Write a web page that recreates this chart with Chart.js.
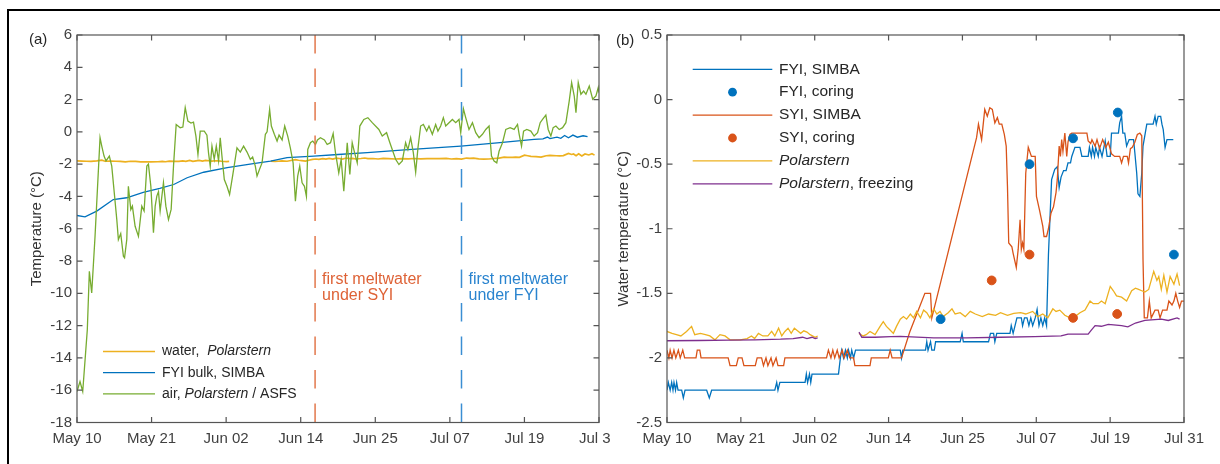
<!DOCTYPE html>
<html>
<head>
<meta charset="utf-8">
<script src="https://cdn.jsdelivr.net/npm/chart.js@4.4.1/dist/chart.umd.min.js"></script>
<style>
  body { margin:0; background:#fff; width:1220px; height:464px; overflow:hidden; position:relative;
         font-family:"Liberation Sans", Arial, sans-serif; }
  #ca { position:absolute; left:10px; top:12px; }
  #cb { position:absolute; left:611px; top:12px; background:#fff; }
  #frame { position:absolute; left:7px; top:9px; width:1300px; height:500px;
           border-left:2px solid #000; border-top:2px solid #000; pointer-events:none; }
  .tag { position:absolute; font-size:15px; line-height:17px; color:#262626; }
</style>
</head>
<body>
<canvas id="ca" width="640" height="452"></canvas>
<canvas id="cb" width="609" height="452"></canvas>
<div id="frame"></div>
<div class="tag" style="left:29px;top:30px">(a)</div>
<div class="tag" style="left:616px;top:31px">(b)</div>
<script>
// x axis: days since May 10, ticks evenly spaced over the span
const spanDays = 82;
const dateLabels = ['May 10','May 21','Jun 02','Jun 14','Jun 25','Jul 07','Jul 19','Jul 31'];

// (a) air temperature, Polarstern / ASFS
const airDays = [0,0.47,0.9,1.62,1.94,2.31,2.83,3.62,3.89,4.25,
  4.56,5.08,5.46,6.25,6.5,6.87,7.29,7.47,7.82,8.07,
  8.45,8.7,9.13,9.65,10.18,10.54,10.97,11.22,11.6,12.01,
  12.28,12.54,12.8,13.06,13.58,13.96,14.37,14.79,15.16,15.58,
  16.21,16.63,17,17.42,17.9,18.3,18.68,19,19.36,19.99,
  20.41,20.66,20.93,21.2,21.56,21.88,22.24,22.5,22.77,23.14,
  23.56,23.97,24.44,25.13,25.65,26.17,26.71,27.23,27.59,28.01,
  28.28,28.69,29.07,29.59,29.86,30.26,30.53,31,31.43,31.74,
  32.22,32.63,33.1,33.52,33.95,34.31,34.67,34.99,35.36,35.73,
  36.04,36.25,36.67,37.03,37.46,37.77,38.24,38.87,39.3,39.82,
  40.24,40.6,41.12,41.5,41.91,42.45,42.86,43.23,43.6,44.02,
  44.43,45.06,45.69,46.38,47.42,47.95,48.63,49.15,50.05,50.57,
  51.1,51.62,51.98,52.41,52.83,53.2,53.56,53.98,54.41,54.93,
  55.29,55.82,56.34,56.7,57.13,57.55,57.92,58.44,58.97,59.49,
  60.01,60.28,60.7,61.06,61.58,62.12,62.64,63.16,63.69,64.21,
  64.73,65.11,65.52,65.94,66.3,66.84,67.36,68.04,68.67,69.2,
  69.46,69.83,70.15,70.66,71.29,71.81,72.35,72.76,73.13,73.65,
  74.02,74.44,74.8,75.23,75.75,76.28,76.8,77.32,77.7,78.11,
  78.38,78.74,79.16,79.59,79.95,80.47,81.01,81.52,81.88,82];
const airTemp = [-16.08,-15.46,-16.08,-12.25,-8.63,-9.98,-6.5,-0.36,-0.88,-1.5,
  -1.8,-1.5,-2.12,-5.43,-6.67,-6.3,-7.7,-7.8,-6.67,-3.37,
  -4.81,-4.6,-5.85,-6.47,-4.6,-4.9,-2.12,-2.0,-3.37,-6.25,
  -4.6,-3.98,-3.7,-4.9,-3.15,-4.6,-5.43,-4.8,-2.12,0.46,
  0.26,0.3,1.5,0.67,0.55,0.6,-0.26,-1.4,0.05,0.05,
  -0.2,-1.3,-2.12,-0.88,-1.7,-0.88,-1.8,-0.36,-1.5,-2.95,
  -3.37,-3.88,-2.74,-0.99,-1.25,-0.88,-1.25,-1.7,-1.55,-2.12,
  -2.74,-2.3,-1.92,-0.15,0.0,1.39,0.36,-0.15,-0.57,-0.2,
  -0.5,0.36,-0.26,-1.0,-1.92,-4.3,-2.74,-2.12,-3.15,-3.37,
  -4.0,-1.09,-0.67,-0.57,-0.78,-0.5,-0.36,-0.5,-0.78,-0.67,
  -0.1,-1.29,-2.54,-1.7,-3.68,-0.67,-2.64,-0.67,-1.29,-1.92,
  0.36,0.77,0.88,0.57,0.15,-0.26,-0.05,-0.67,-1.7,-2.02,
  -1.8,-0.67,-1.1,-0.36,-1.29,-2.5,-0.99,0.36,0.46,0.05,
  0.36,-0.15,0.46,0.05,0.36,0.88,0.36,0.57,0.77,0.57,
  0.77,-0.05,1.43,0.88,0.15,0.57,-0.05,-0.36,-0.15,0.15,
  0.36,-1.5,-1.8,-1.92,-1.2,-0.67,0.15,0.26,0.15,0.46,
  -0.15,-0.88,0.05,0.15,0.05,-0.26,-0.05,0.57,0.77,1.04,
  0.15,-0.26,0.26,0.36,0.15,0.26,0.57,1.91,3.05,2.22,
  1.19,3.05,2.33,2.53,2.33,2.84,2.02,2.22,2.74,2.43];

// (a) FYI bulk temperature, SIMBA
const bulkDays = [0,1.26,3.1,5.7,7.8,10.4,13,15.2,17.3,19.9,
  23.6,27.7,30.4,33,37.2,41,45.6,52,60.3,66,
  71.8,73.2,73.9,74.3,75.4,76,76.6,77.2,77.9,78.6,79.5,80.2];
const bulkTemp = [-5.18,-5.26,-4.91,-4.19,-4.08,-3.74,-3.5,-3.26,-2.84,-2.5,
  -2.22,-1.96,-1.81,-1.6,-1.5,-1.4,-1.29,-1.1,-0.88,-0.68,
  -0.47,-0.43,-0.32,-0.42,-0.33,-0.4,-0.22,-0.36,-0.2,-0.33,-0.24,-0.3];

// water temperature, Polarstern (null = data gap)
const waterDays = [0,0.8,1.5,2.2,3.1,3.9,4.4,5.3,6.1,6.8,
  7.6,8.4,9.2,10,11.6,12.7,13.4,13.9,14.5,15.2,
  16,16.6,17.1,17.7,18.2,18.7,19.2,19.7,20.2,20.7,
  21.2,21.7,22.2,22.7,23.5,23.9,27,30.45,31.1,31.6,
  32.2,33,33.8,34.3,34.8,35.3,35.9,36.4,37,37.5,
  38,38.6,39.1,39.6,40.2,40.7,41.2,41.7,42.3,42.8,
  43.3,43.8,44.6,45.2,45.7,46.5,47.3,48.1,48.9,50,
  51,52.1,52.9,54,55,56.1,56.9,58,58.8,59.6,
  60.4,61.2,61.7,62.3,63.1,63.9,64.7,65.5,66.3,67.1,
  67.6,68.4,68.9,69.5,70.3,70.8,71.3,72.1,72.9,73.7,
  74.3,74.8,75.3,75.8,76.4,77.2,77.7,78,78.4,78.8,
  79.3,79.8,80.4,80.9,81.3];
const waterTemp = [-1.795,-1.81,-1.82,-1.83,-1.795,-1.756,-1.82,-1.81,-1.82,-1.83,
  -1.86,-1.82,-1.83,-1.86,-1.86,-1.85,-1.83,-1.85,-1.81,-1.83,
  -1.83,-1.795,-1.83,-1.77,-1.83,-1.795,-1.77,-1.81,-1.77,-1.79,
  -1.81,-1.79,-1.8,-1.82,-1.84,-1.83,null,-1.81,-1.83,-1.82,
  -1.795,-1.82,-1.756,-1.72,-1.756,-1.78,-1.81,-1.756,-1.7,-1.68,
  -1.7,-1.66,-1.69,-1.64,-1.69,-1.63,-1.65,-1.69,-1.62,-1.66,
  -1.64,-1.68,-1.65,-1.62,-1.66,-1.65,-1.68,-1.64,-1.66,-1.68,
  -1.66,-1.67,-1.65,-1.67,-1.655,-1.65,-1.66,-1.64,-1.68,-1.66,
  -1.69,-1.62,-1.64,-1.63,-1.67,-1.69,-1.68,-1.65,-1.63,-1.56,
  -1.58,-1.58,-1.56,-1.58,-1.446,-1.48,-1.52,-1.53,-1.56,-1.48,
  -1.46,-1.47,-1.48,-1.49,-1.47,-1.33,-1.4,-1.37,-1.47,-1.36,
  -1.49,-1.37,-1.43,-1.35,-1.44];

// freezing temperature, Polarstern
const freezeDays = [0,5,10,14,18,20,21.5,22.2,23,23.5,
  23.9,27,30.45,30.9,33,35.5,37,42.3,47.5,52.9,
  58.3,62.5,63.6,66.8,67.3,67.9,68.9,70,72.1,73.1,
  74.3,75.8,78.4,79.5,80.9,81.3];
const freezeTemp = [-1.867,-1.865,-1.862,-1.86,-1.855,-1.85,-1.84,-1.85,-1.84,-1.85,
  -1.845,null,-1.80,-1.84,-1.84,-1.835,-1.833,-1.845,-1.845,-1.84,
  -1.835,-1.83,-1.816,-1.816,-1.785,-1.75,-1.755,-1.74,-1.75,-1.76,
  -1.73,-1.71,-1.70,-1.71,-1.69,-1.70];

// (b) FYI water temperature, SIMBA
const fyiDays = [0,0.21,0.5,0.74,0.95,1.11,1.35,1.53,1.75,2.33,
  2.59,2.86,6.29,6.71,7.08,17.1,17.4,17.6,17.9,21.9,
  22.1,22.3,22.6,22.8,23,27.2,27.5,27.7,28,28.3,
  28.6,28.8,29.1,29.3,29.6,29.9,37,37.2,37.4,41,
  41.2,41.4,41.8,42,42.4,42.6,46.5,46.8,47,51,
  51.3,51.8,52,52.3,54.4,54.6,54.9,55.2,55.5,56.2,
  56.4,56.7,57.1,57.4,57.7,58,58.4,58.7,59,59.3,
  59.6,59.9,60.2,60.5,61,61.5,61.9,62.2,62.5,62.9,
  63.3,63.6,64,64.2,64.7,65.5,65.8,66.8,67,67.3,
  67.5,67.8,68,68.4,68.6,69,69.5,69.8,70.3,70.5,
  71.6,71.8,72.1,72.3,72.6,72.9,73.3,74,74.2,74.5,
  74.7,75,75.3,75.5,76.1,77.1,77.4,77.6,77.9,78.3,
  78.5,78.7,79,79.3,80.3];
const fyiTemp = [-2.25,-2.19,-2.25,-2.19,-2.25,-2.19,-2.25,-2.19,-2.25,-2.25,
  -2.31,-2.25,-2.25,-2.31,-2.25,-2.25,-2.19,-2.25,-2.19,-2.19,
  -2.125,-2.19,-2.125,-2.19,-2.125,-2.125,-2,-1.94,-2,-1.94,
  -2,-1.94,-2,-1.94,-2,-1.94,-1.94,-2,-1.94,-1.94,
  -1.875,-1.94,-1.875,-1.94,-1.94,-1.875,-1.875,-1.81,-1.875,-1.875,
  -1.81,-1.81,-1.875,-1.81,-1.81,-1.75,-1.81,-1.75,-1.69,-1.69,
  -1.75,-1.69,-1.69,-1.75,-1.69,-1.75,-1.69,-1.625,-1.75,-1.69,
  -1.75,-1.69,-1.75,-1.2,-0.62,-0.54,-0.52,-0.68,-0.6,-0.55,
  -0.55,-0.49,-0.49,-0.44,-0.37,-0.37,-0.44,-0.44,-0.37,-0.44,
  -0.37,-0.44,-0.37,-0.44,-0.37,-0.44,-0.32,-0.44,-0.44,-0.26,
  -0.26,-0.18,-0.13,-0.26,-0.26,-0.36,-0.31,-0.31,-0.41,-0.57,
  -0.73,-0.75,-0.57,-0.36,-0.19,-0.19,-0.13,-0.19,-0.13,-0.13,
  -0.19,-0.23,-0.37,-0.31,-0.31];

// (b) SYI water temperature, SIMBA
const syiDays = [0,0.3,0.5,0.8,1.1,1.4,1.8,2.1,2.5,2.8,
  4.6,4.8,5.2,5.4,9.7,10,11,11.3,11.9,12.2,
  14,14.3,15,15.3,15.7,16,16.5,16.8,17.3,17.6,
  18.5,18.7,25.3,25.6,26,26.3,26.6,27,27.3,27.8,
  28.1,28.6,29,29.6,29.8,32.2,32.4,35.1,35.4,35.7,
  37.2,38.5,40.1,40.9,41.8,42,49.1,49.4,49.9,50.4,
  50.8,51.2,51.6,52,52.4,52.7,53.1,53.5,53.8,54,
  54.2,54.7,54.9,55.4,55.7,56,56.2,56.4,56.6,56.9,
  57.3,57.8,58.4,58.6,59.1,59.6,59.8,60.2,60.5,60.9,
  61.3,61.7,61.9,62.2,62.4,62.6,62.8,63.1,63.4,63.6,
  63.9,64.2,65.8,66.6,66.8,67.2,67.4,67.9,68.2,68.6,
  69.1,69.6,70,70.5,71,71.8,72.1,72.4,73,73.2,
  73.5,73.8,74.2,74.6,75,75.3,75.5,75.7,76.2,76.5,
  76.8,77.4,77.9,78.2,78.6,79.3,79.6,80.1,80.4,80.7,
  81,81.3,81.6,82];
const syiTemp = [-1.94,-2,-1.94,-2,-1.94,-2,-1.94,-2,-1.94,-2,
  -2,-1.94,-1.94,-2,-2,-2.06,-2.06,-2,-2,-2.06,
  -2.06,-2,-2,-2.06,-2,-2.06,-2,-2.06,-2,-2.06,
  -2.06,-2,-2,-1.94,-2,-1.94,-2,-1.94,-2,-1.94,
  -2,-1.94,-2,-2,-2.06,-2.06,-2,-2,-1.94,-2,
  -2,-1.8,-1.6,-1.5,-1.5,-1.69,-0.295,-0.19,-0.31,-0.076,
  -0.128,-0.063,-0.076,-0.18,-0.14,-0.19,-0.19,-0.27,-0.36,-0.67,
  -1.11,-1.14,-1.19,-1.3,-1.16,-0.93,-1.16,-1.11,-1.16,-0.57,
  -0.37,-0.44,-0.44,-0.75,-0.86,-0.98,-1.06,-1.06,-1,-0.88,
  -0.83,-0.72,-0.62,-0.36,-0.44,-0.31,-0.4,-0.26,-0.44,-0.33,
  -0.27,-0.26,-0.26,-0.26,-0.32,-0.34,-0.31,-0.36,-0.31,-0.38,
  -0.31,-0.37,-0.33,-0.42,-0.44,-0.44,-0.49,-0.44,-0.44,-0.49,
  -0.38,-0.37,-0.33,-0.27,-0.26,-0.28,-1.24,-1.69,-1.69,-1.56,
  -1.69,-1.63,-1.63,-1.69,-1.63,-1.63,-1.56,-1.59,-1.56,-1.5,
  -1.56,-1.61,-1.56,-1.56];

// (b) coring measurements
const fyiCoreDays = [43.4, 57.5, 64.4, 71.5, 80.4];
const fyiCoreTemp = [-1.70, -0.5, -0.3, -0.1, -1.2];
const syiCoreDays = [51.5, 57.5, 64.4, 71.4];
const syiCoreTemp = [-1.40, -1.2, -1.69, -1.66];

// first meltwater events (days) and labels
const meltDays = [37.4, 60.4];
const meltLabels = [['first meltwater', 'under SYI'], ['first meltwater', 'under FYI']];

const C = { blue:'#0072BD', red:'#D95319', orange:'#EDB120', purple:'#7E2F8E', green:'#77AC30',
            redLine:'#E2774B', blueLine:'#3A8ED3' };
const FONT = '"Liberation Sans", Arial, sans-serif';
const AX = '#555';
const TXT = '#404040';

const pts = (xs, ys) => xs.map((x, i) => ({ x, y: ys[i] }));
function lineDs(xs, ys, color, order, extra) {
  return Object.assign({ data: pts(xs, ys), borderColor: color, borderWidth: 1.3, pointRadius: 0,
    fill: false, tension: 0, spanGaps: false, order }, extra || {});
}
function dotDs(xs, ys, color, order) {
  return { data: pts(xs, ys), showLine: false, pointRadius: 4.4, pointHoverRadius: 4.4,
    pointBackgroundColor: color, pointBorderColor: color, borderColor: color, order };
}

function xScale(height) {
  return {
    type: 'linear', min: 0, max: spanDays,
    afterBuildTicks: s => { s.ticks = dateLabels.map((_, i) => ({ value: i * spanDays / (dateLabels.length - 1) })); },
    afterFit: s => { s.height = height; },
    grid: { display: false, drawTicks: false }, border: { display: false },
    ticks: { autoSkip: false, maxRotation: 0, padding: 7, color: TXT, font: { family: FONT, size: 15 },
             callback: (v, i) => dateLabels[i] }
  };
}
function yScale(min, max, step, width, title, titlePad) {
  return {
    min, max, afterFit: s => { s.width = width; },
    grid: { display: false, drawTicks: false }, border: { display: false },
    ticks: { stepSize: step, padding: 5, color: TXT, font: { family: FONT, size: 15 },
             callback: v => String(Math.round(v * 10) / 10) },
    title: { display: true, text: title, color: '#333', font: { family: FONT, size: 15 },
             padding: { top: titlePad, bottom: 0 } }
  };
}

// axes box with inward ticks on all four sides
const boxPlugin = {
  id: 'box',
  afterDatasetsDraw(chart) {
    const { ctx, chartArea: a, scales: { x, y } } = chart;
    const tl = 5.5;
    ctx.save();
    ctx.strokeStyle = AX; ctx.lineWidth = 1.2;
    ctx.strokeRect(a.left, a.top, a.right - a.left, a.bottom - a.top);
    ctx.beginPath();
    x.ticks.forEach(t => {
      const px = x.getPixelForValue(t.value);
      ctx.moveTo(px, a.bottom); ctx.lineTo(px, a.bottom - tl);
      ctx.moveTo(px, a.top); ctx.lineTo(px, a.top + tl);
    });
    y.ticks.forEach(t => {
      const py = y.getPixelForValue(t.value);
      ctx.moveTo(a.left, py); ctx.lineTo(a.left + tl, py);
      ctx.moveTo(a.right, py); ctx.lineTo(a.right - tl, py);
    });
    ctx.stroke();
    ctx.restore();
  }
};

function drawLegend(ctx, items, o) {
  ctx.save();
  ctx.textBaseline = 'middle';
  items.forEach((it, i) => {
    const y = o.y0 + i * o.dy;
    if (it.dot) {
      ctx.fillStyle = it.color;
      ctx.beginPath(); ctx.arc((o.x0 + o.x1) / 2, y, 4.4, 0, Math.PI * 2); ctx.fill();
    } else {
      ctx.strokeStyle = it.color; ctx.lineWidth = 1.3;
      ctx.beginPath(); ctx.moveTo(o.x0, y); ctx.lineTo(o.x1, y); ctx.stroke();
    }
    let tx = o.tx;
    it.text.forEach(([s, ital]) => {
      ctx.font = (ital ? 'italic ' : '') + o.size + 'px ' + FONT;
      ctx.fillStyle = '#262626';
      ctx.fillText(s, tx, y);
      tx += ctx.measureText(s).width;
    });
  });
  ctx.restore();
}

const legendA = {
  id: 'legendA',
  afterDraw(chart) {
    const a = chart.chartArea;
    drawLegend(chart.ctx, [
      { color: C.orange, text: [['water,  ', false], ['Polarstern', true]] },
      { color: C.blue, text: [['FYI bulk, SIMBA', false]] },
      { color: C.green, text: [['air, ', false], ['Polarstern', true], [' / ASFS', false]] }
    ], { x0: a.left + 26, x1: a.left + 78, tx: a.left + 85, y0: a.top + 316.5, dy: 21.2, size: 14 });

    // meltwater annotations
    const { ctx, scales: { x, y } } = chart;
    ctx.save();
    ctx.font = '16px ' + FONT;
    ctx.textBaseline = 'middle';
    [C.red, C.blue].forEach((col, k) => {
      ctx.fillStyle = k ? '#2A84CF' : '#DE6236';
      const px = x.getPixelForValue(meltDays[k]) + 7;
      meltLabels[k].forEach((s, j) => ctx.fillText(s, px, y.getPixelForValue(-9.15) + j * 15.7));
    });
    ctx.restore();
  }
};

const legendB = {
  id: 'legendB',
  afterDraw(chart) {
    const a = chart.chartArea;
    drawLegend(chart.ctx, [
      { color: C.blue, text: [['FYI, SIMBA', false]] },
      { color: C.blue, dot: true, text: [['FYI, coring', false]] },
      { color: C.red, text: [['SYI, SIMBA', false]] },
      { color: C.red, dot: true, text: [['SYI, coring', false]] },
      { color: C.orange, text: [['Polarstern', true]] },
      { color: C.purple, text: [['Polarstern', true], [', freezing', false]] }
    ], { x0: a.left + 25.7, x1: a.left + 105.3, tx: a.left + 112, y0: a.top + 34.3, dy: 22.9, size: 15.5 });
  }
};

const common = { responsive: false, animation: false, devicePixelRatio: 1,
  plugins: { legend: { display: false }, tooltip: { enabled: false } }, events: [] };

const dash = { borderDash: [18.4, 15.1], borderWidth: 1.5 };

new Chart(document.getElementById('ca'), {
  type: 'line',
  data: { datasets: [
    lineDs([meltDays[0], meltDays[0]], [6, -18], C.redLine, 0, dash),
    lineDs([meltDays[1], meltDays[1]], [6, -18], C.blueLine, 0, dash),
    lineDs(airDays, airTemp, C.green, 1),
    lineDs(bulkDays, bulkTemp, C.blue, 2),
    lineDs(waterDays, waterTemp, C.orange, 3, { borderWidth: 1.7 })
  ] },
  options: Object.assign({}, common, {
    layout: { padding: { left: 0, right: 51, top: 23, bottom: 0 } },
    scales: { x: xScale(41.5), y: yScale(-18, 6, 2, 67, 'Temperature (°C)', 18) }
  }),
  plugins: [boxPlugin, legendA]
});

new Chart(document.getElementById('cb'), {
  type: 'line',
  data: { datasets: [
    dotDs(fyiCoreDays, fyiCoreTemp, C.blue, 0),
    dotDs(syiCoreDays, syiCoreTemp, C.red, 0),
    lineDs(freezeDays, freezeTemp, C.purple, 1),
    lineDs(waterDays, waterTemp, C.orange, 2),
    lineDs(syiDays, syiTemp, C.red, 3),
    lineDs(fyiDays, fyiTemp, C.blue, 4)
  ] },
  options: Object.assign({}, common, {
    layout: { padding: { left: 0, right: 36, top: 23, bottom: 0 } },
    scales: { x: xScale(41.5), y: yScale(-2.5, 0.5, 0.5, 56, 'Water temperature (°C)', 4) }
  }),
  plugins: [boxPlugin, legendB]
});
</script>
</body>
</html>
